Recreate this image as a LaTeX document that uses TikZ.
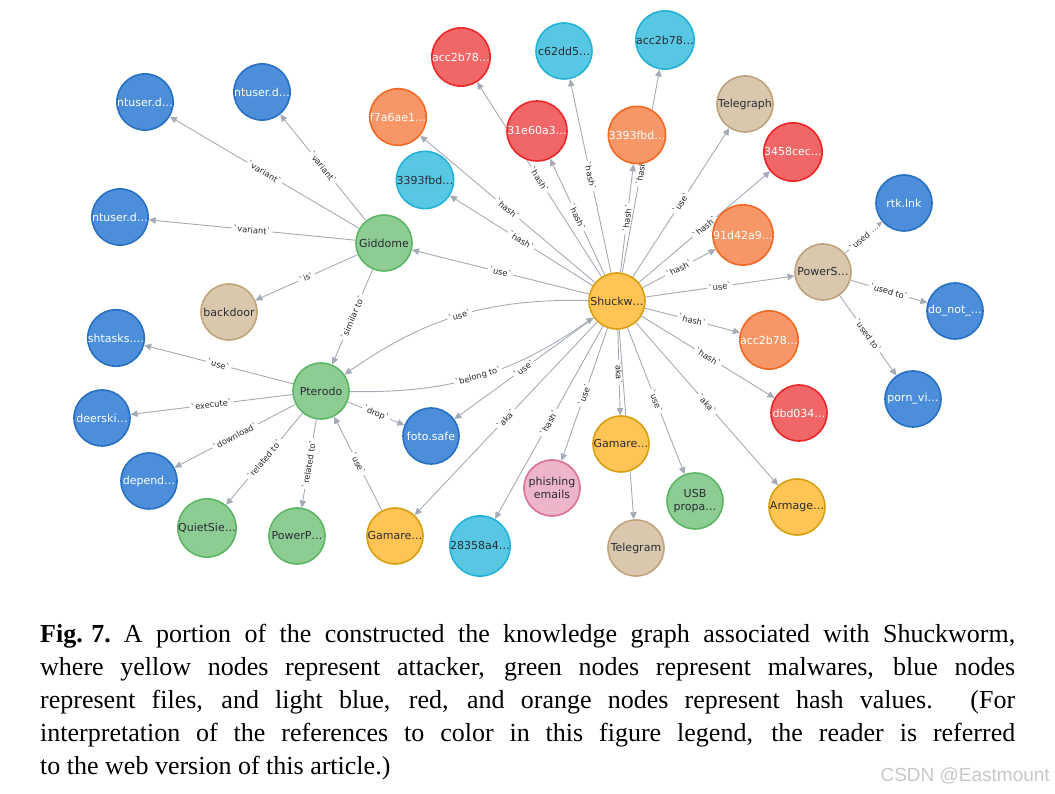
\documentclass[tikz,border=0pt]{standalone}
\usepackage{fontspec}
\setmainfont{Liberation Serif}
\newfontfamily\graphfont{DejaVu Sans}
\newfontfamily\markfont{Liberation Sans}
\usetikzlibrary{arrows.meta}
\definecolor{edgegray}{HTML}{A5ABB6}
\definecolor{nodetext}{HTML}{2A2C34}
\definecolor{fileFill}{HTML}{4C8EDA}
\definecolor{fileLine}{HTML}{2870C2}
\definecolor{hashBFill}{HTML}{57C7E3}
\definecolor{hashBLine}{HTML}{23B3D7}
\definecolor{hashRFill}{HTML}{F16667}
\definecolor{hashRLine}{HTML}{EB2728}
\definecolor{hashOFill}{HTML}{F79767}
\definecolor{hashOLine}{HTML}{F36924}
\definecolor{actorFill}{HTML}{FFC454}
\definecolor{actorLine}{HTML}{D7A013}
\definecolor{malFill}{HTML}{8DCC93}
\definecolor{malLine}{HTML}{5DB665}
\definecolor{toolFill}{HTML}{D9C8AE}
\definecolor{toolLine}{HTML}{C0A378}
\definecolor{pinkFill}{HTML}{ECB5C9}
\definecolor{pinkLine}{HTML}{DA7298}
\newcommand{\tick}[1]{\textasciigrave#1\textasciigrave}
\pgfdeclarelayer{background}
\pgfsetlayers{background,main}
\tikzset{
  kgnode/.style={circle, minimum size=56pt, inner sep=0pt, line width=1.6pt,
    align=center, text=nodetext, font=\graphfont\fontsize{11}{12.5}\selectfont},
  filenode/.style={kgnode, draw=fileLine, fill=fileFill, text=white},
  bluehash/.style={kgnode, draw=hashBLine, fill=hashBFill},
  redhash/.style={kgnode, draw=hashRLine, fill=hashRFill, text=white},
  orangehash/.style={kgnode, draw=hashOLine, fill=hashOFill, text=white},
  actornode/.style={kgnode, draw=actorLine, fill=actorFill},
  malnode/.style={kgnode, draw=malLine, fill=malFill},
  toolnode/.style={kgnode, draw=toolLine, fill=toolFill},
  pinknode/.style={kgnode, draw=pinkLine, fill=pinkFill},
  rel/.style={-{Triangle[length=7pt,width=6.5pt]}, draw=edgegray, line width=0.9pt},
  rlabel/.style={midway, sloped, fill=white, inner sep=1.3pt, text=black!85,
    font=\graphfont\fontsize{8.3}{9}\selectfont}
}

\begin{document}
\begin{tikzpicture}[x=1pt,y=1pt]
  \useasboundingbox (0,0) rectangle (1055,794);
  % nodes
  \node[actornode] (shuck) at (617,493) {Shuckw…};
  \node[malnode] (gidd) at (384,551) {Giddome};
  \node[malnode] (ptero) at (321,403) {Pterodo};
  \node[filenode] (ntuA) at (145,692) {ntuser.d…};
  \node[filenode] (ntuB) at (262,702) {ntuser.d…};
  \node[filenode] (ntuC) at (120,577) {ntuser.d…};
  \node[toolnode] (backdoor) at (229,482) {backdoor};
  \node[orangehash] (f7a) at (398,677) {f7a6ae1…};
  \node[redhash] (accR) at (461,737) {acc2b78…};
  \node[bluehash] (c62) at (564,743) {c62dd5…};
  \node[bluehash] (accB) at (665,754) {acc2b78…};
  \node[redhash] (e31) at (537,663) {31e60a3…};
  \node[orangehash] (fbdO) at (637,659) {3393fbd…};
  \node[bluehash] (fbdB) at (425,614) {3393fbd…};
  \node[toolnode] (tgraph) at (745,690) {Telegraph};
  \node[redhash] (h3458) at (793,642) {3458cec…};
  \node[orangehash] (d91) at (743,559) {91d42a9…};
  \node[toolnode] (powS) at (823,522) {PowerS…};
  \node[filenode] (rtk) at (904,591) {rtk.lnk};
  \node[filenode] (donot) at (955,483) {do\_not\_…};
  \node[filenode] (porn) at (913,395) {porn\_vi…};
  \node[orangehash] (accO) at (769,454) {acc2b78…};
  \node[redhash] (dbd) at (799,381) {dbd034…};
  \node[filenode] (shtasks) at (116,456) {shtasks.…};
  \node[filenode] (deer) at (102,376) {deerski…};
  \node[filenode] (depend) at (149,313) {depend…};
  \node[malnode] (quiet) at (207,266) {QuietSie…};
  \node[malnode] (powP) at (297,258) {PowerP…};
  \node[actornode] (gamL) at (395,258) {Gamare…};
  \node[filenode] (foto) at (431,358) {foto.safe};
  \node[bluehash] (h283) at (480,248) {28358a4…};
  \node[pinknode] (phish) at (552,306) {phishing\\emails};
  \node[actornode] (gamC) at (621,350) {Gamare…};
  \node[toolnode] (tgram) at (636,246) {Telegram};
  \node[malnode] (usb) at (695,293) {USB\\propa…};
  \node[actornode] (armage) at (797,287) {Armage…};

  \begin{pgfonlayer}{background}
    % Giddome
    \draw[rel] (gidd) -- node[rlabel] {\tick{variant}} (ntuA);
    \draw[rel] (gidd) -- node[rlabel] {\tick{variant}} (ntuB);
    \draw[rel] (gidd) -- node[rlabel] {\tick{variant}} (ntuC);
    \draw[rel] (gidd) -- node[rlabel] {\tick{is}} (backdoor);
    \draw[rel] (gidd) -- node[rlabel] {\tick{similar to}} (ptero);
    % Shuckworm
    \draw[rel] (shuck) -- node[rlabel] {\tick{use}} (gidd);
    \draw[rel] (shuck) -- node[rlabel] {\tick{hash}} (f7a);
    \draw[rel] (shuck) -- node[rlabel] {\tick{hash}} (fbdB);
    \draw[rel] (shuck) -- node[rlabel] {\tick{hash}} (accR);
    \draw[rel] (shuck) -- node[rlabel] {\tick{hash}} (e31);
    \draw[rel] (shuck) -- node[rlabel] {\tick{hash}} (c62);
    \draw[rel] (shuck) -- node[rlabel] {\tick{hash}} (fbdO);
    \draw[rel] (shuck) -- node[rlabel] {\tick{hash}} (accB);
    \draw[rel] (shuck) -- node[rlabel] {\tick{use}} (tgraph);
    \draw[rel] (shuck) -- node[rlabel] {\tick{hash}} (h3458);
    \draw[rel] (shuck) -- node[rlabel] {\tick{hash}} (d91);
    \draw[rel] (shuck) -- node[rlabel] {\tick{use}} (powS);
    \draw[rel] (shuck) -- node[rlabel] {\tick{hash}} (accO);
    \draw[rel] (shuck) -- node[rlabel] {\tick{hash}} (dbd);
    \draw[rel] (shuck) -- node[rlabel] {\tick{aka}} (armage);
    \draw[rel] (shuck) -- node[rlabel] {\tick{use}} (usb);
    \draw[rel] (shuck) -- node[rlabel] {\tick{aka}} (gamC);
    \draw[rel] (shuck) -- (tgram);
    \draw[rel] (shuck) -- node[rlabel] {\tick{use}} (phish);
    \draw[rel] (shuck) -- node[rlabel] {\tick{hash}} (h283);
    \draw[rel] (shuck) -- node[rlabel] {\tick{aka}} (gamL);
    \draw[rel] (shuck) -- node[rlabel] {\tick{use}} (foto);
    \draw[rel] (shuck) to[bend right=18] node[rlabel] {\tick{use}} (ptero);
    \draw[rel] (ptero) to[bend right=18] node[rlabel] {\tick{belong to}} (shuck);
    % Pterodo
    \draw[rel] (ptero) -- node[rlabel] {\tick{use}} (shtasks);
    \draw[rel] (ptero) -- node[rlabel] {\tick{execute}} (deer);
    \draw[rel] (ptero) -- node[rlabel] {\tick{download}} (depend);
    \draw[rel] (ptero) -- node[rlabel] {\tick{related to}} (quiet);
    \draw[rel] (ptero) -- node[rlabel] {\tick{related to}} (powP);
    \draw[rel] (ptero) -- node[rlabel] {\tick{drop}} (foto);
    \draw[rel] (gamL) -- node[rlabel] {\tick{use}} (ptero);
    % PowerShell
    \draw[rel] (powS) -- node[rlabel] {\textasciigrave used …} (rtk);
    \draw[rel] (powS) -- node[rlabel] {\tick{used to}} (donot);
    \draw[rel] (powS) -- node[rlabel] {\tick{used to}} (porn);
  \end{pgfonlayer}

  % caption
  \node[anchor=base west, inner sep=0pt, text width=975pt, align=justify,
    font=\fontsize{26}{33}\selectfont] (caption) at (40,151)
    {\mbox{\textbf{Fig. 7.}}\enspace A portion of the constructed the knowledge graph associated with Shuckworm,\linebreak
     where yellow nodes represent attacker, green nodes represent malwares, blue nodes\linebreak
     represent files, and light blue, red, and orange nodes represent hash values. (For\linebreak
     interpretation of the references to color in this figure legend, the reader is referred\linebreak
     to the web version of this article.)};
  \node[anchor=base east, inner sep=0pt, text=black!22,
    font=\markfont\fontsize{19}{19}\selectfont] (mark) at (1050,12) {CSDN @Eastmount};
\end{tikzpicture}
\end{document}
